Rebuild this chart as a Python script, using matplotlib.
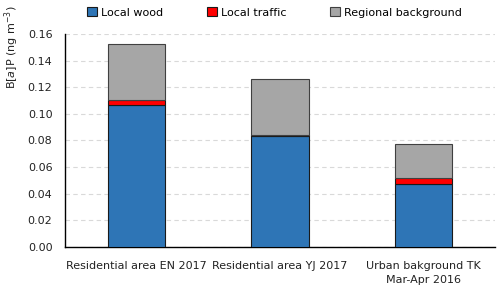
import numpy as np
import matplotlib.pyplot as plt

sites = ['Residential area EN 2017', 'Residential area YJ 2017',
         'Urban bakground TK\nMar-Apr 2016']
local_wood = [0.1065, 0.0833, 0.0471]
local_traffic = [0.0042, 0.0010, 0.0045]
regional = [0.0421, 0.0417, 0.0255]
yticks = [0.00, 0.02, 0.04, 0.06, 0.08, 0.10, 0.12, 0.14, 0.16]

plt.rcParams['font.family'] = 'DejaVu Sans'
plt.rcParams['font.size'] = 8

fig = plt.figure(figsize=(5, 2.93), dpi=100)
ax = fig.add_axes([0.13, 0.157, 0.86, 0.727])

x = np.arange(len(sites))
w = 0.4
wood = np.array(local_wood)
traffic = np.array(local_traffic)
ax.bar(x, wood, w, color='#2e75b6', edgecolor='#1a1a1a', linewidth=0.8,
       label='Local wood', zorder=3)
ax.bar(x, traffic, w, bottom=wood, color='#ff0000', edgecolor='#1a1a1a',
       linewidth=0.8, label='Local traffic', zorder=3)
ax.bar(x, regional, w, bottom=wood + traffic, color='#a6a6a6',
       edgecolor='#404040', linewidth=0.8, label='Regional background', zorder=3)

ax.set_xlim(-0.5, 2.5)
ax.set_ylim(0, 0.16)
ax.set_yticks(yticks)
ax.set_yticklabels([f'{v:.2f}' for v in yticks], color='#222222')
ax.set_xticks(x)
ax.set_xticklabels(sites, color='#222222', linespacing=1.5)
ax.tick_params(axis='x', length=0, pad=10)
ax.tick_params(axis='y', length=0, pad=9)
ax.yaxis.grid(True, linestyle=(0, (4, 3)), color='#d9d9d9', linewidth=0.8, zorder=0)
for s in ['top', 'right']:
    ax.spines[s].set_visible(False)
for s in ['left', 'bottom']:
    ax.spines[s].set_color('black')
    ax.spines[s].set_linewidth(1.0)
ax.set_ylabel(r'B[$\it{a}$]P (ng m$^{-3}$)', color='#222222')
ax.yaxis.set_label_coords(-0.125, 0.94)
ax.yaxis.label.set_va('center')

fig.legend(loc='upper center', bbox_to_anchor=(0.549, 1.01), ncol=3,
           frameon=False, handlelength=0.9, handleheight=0.9,
           handletextpad=0.3, columnspacing=4.0)

fig.savefig('out.png', dpi=100)
